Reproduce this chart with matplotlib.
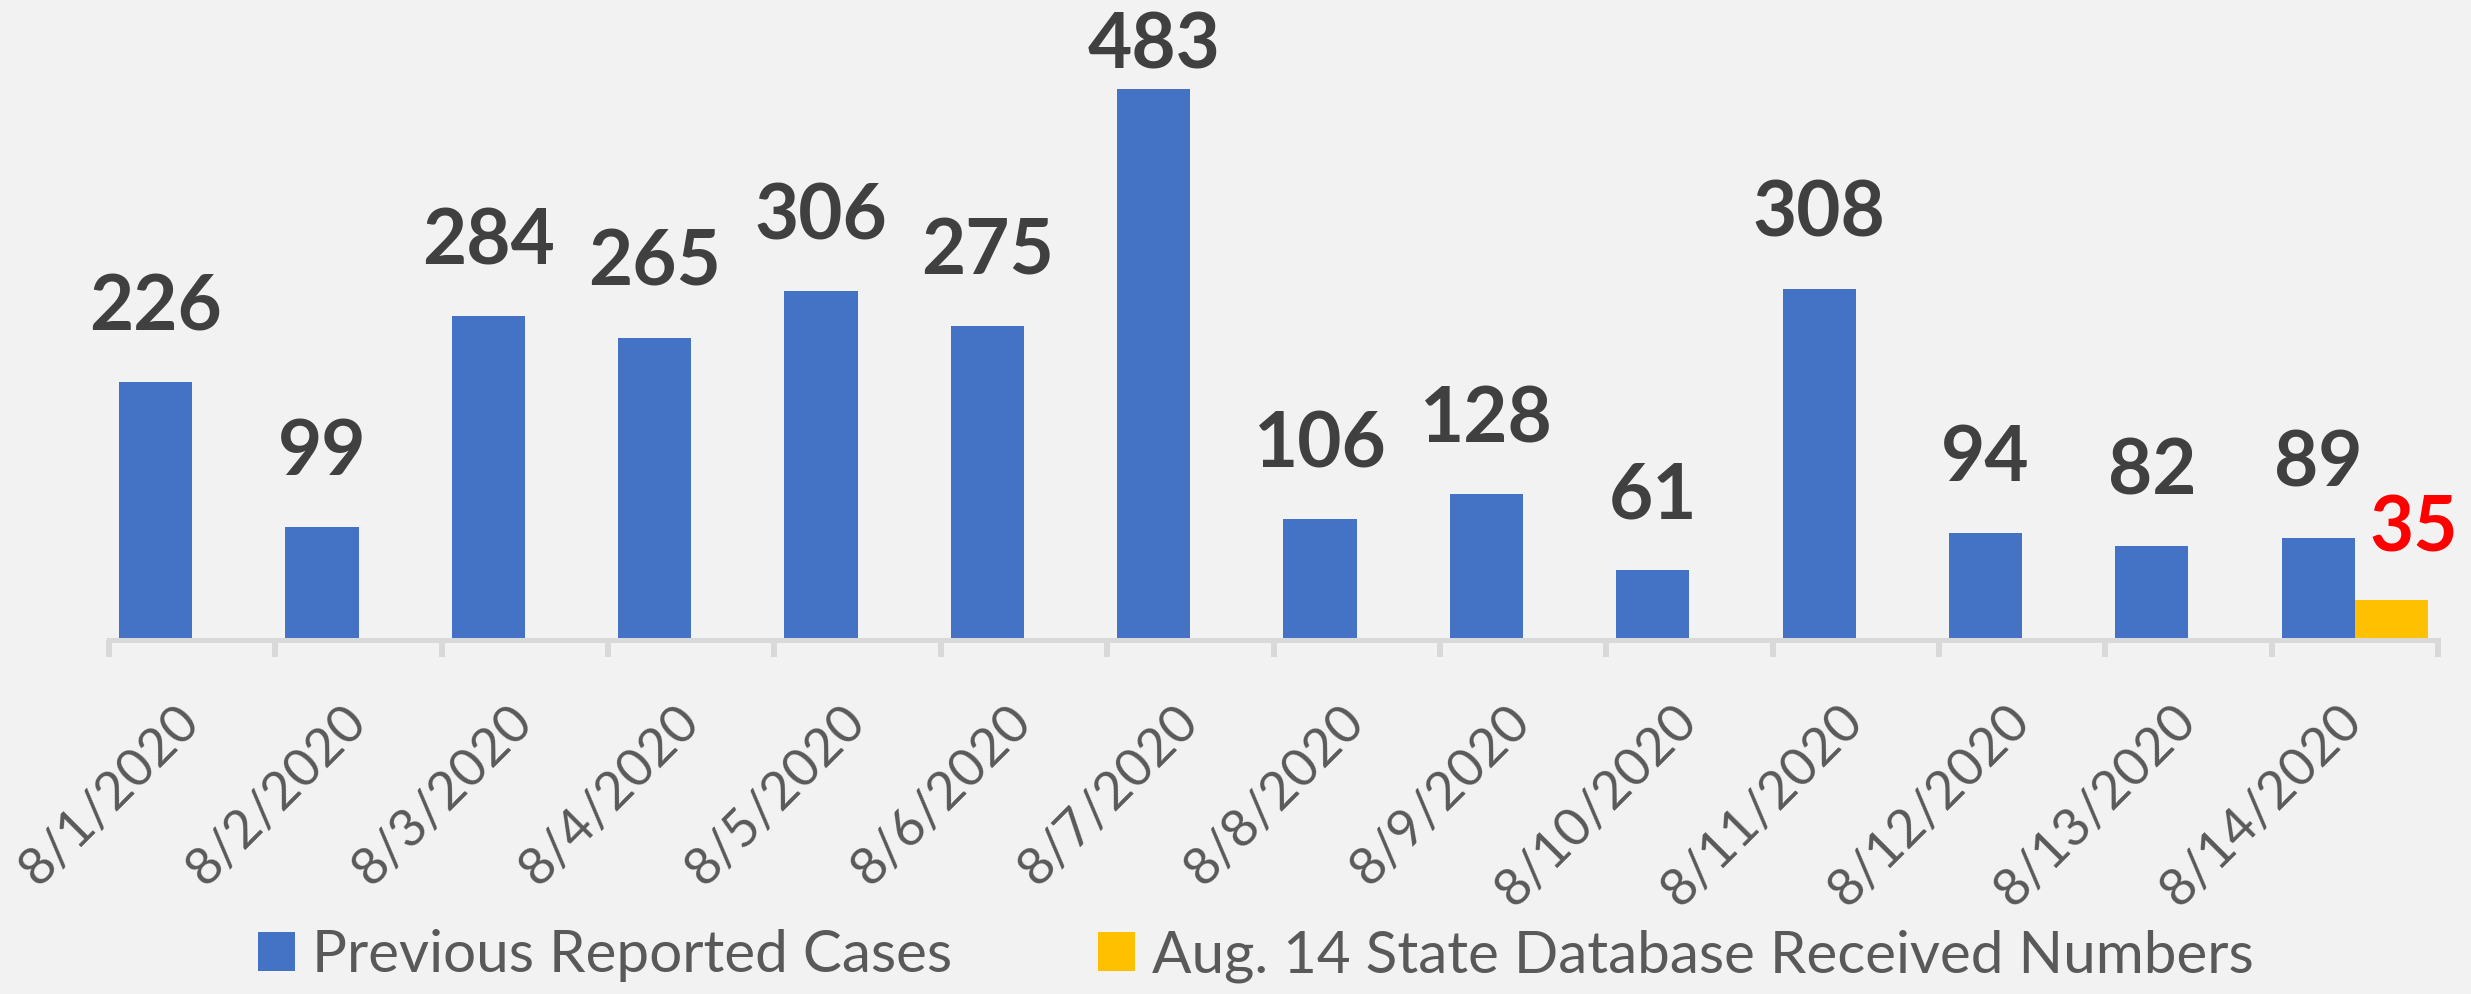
import numpy as np
import matplotlib
matplotlib.use("Agg")
import matplotlib.pyplot as plt
from matplotlib.patches import Patch

# ---- data ----
dates = ["8/1/2020", "8/2/2020", "8/3/2020", "8/4/2020", "8/5/2020", "8/6/2020", "8/7/2020",
         "8/8/2020", "8/9/2020", "8/10/2020", "8/11/2020", "8/12/2020", "8/13/2020", "8/14/2020"]
previous_cases = [226, 99, 284, 265, 306, 275, 483, 106, 128, 61, 308, 94, 82, 89]
state_db_numbers = [None, None, None, None, None, None, None, None, None, None, None, None, None, 35]
series_names = ["Previous Reported Cases", "Aug. 14 State Database Received Numbers"]

BG = "#F2F2F2"
BLUE = "#4472C4"
YELLOW = "#FFC000"
AXIS = "#D9D9D9"
TXT = "#595959"
LBL = "#404040"

W, H, DPI = 2471, 994, 100
fig = plt.figure(figsize=(W / DPI, H / DPI), dpi=DPI, facecolor=BG)
ax = fig.add_axes([109 / W, 1 - 640 / H, (2438 - 109) / W, 640 / H])
ax.set_facecolor(BG)

x = np.arange(len(dates))
bw = 0.44
prev = np.array(previous_cases, dtype=float)
st = np.array([np.nan if v is None else v for v in state_db_numbers], dtype=float)

ax.bar(x - bw / 2, prev, width=bw, color=BLUE, zorder=2)
ax.bar(x + bw / 2, st, width=bw, color=YELLOW, zorder=2)

ymax = 561
ax.set_ylim(0, ymax)
ax.set_xlim(-0.5, len(dates) - 0.5)

gap = 45.5
cap = 501
for xi, v in zip(x, prev):
    ax.text(xi - bw / 2, min(v + gap, cap), f"{int(v)}", ha="center", va="baseline",
            fontsize=55, fontweight="bold", family="Lato", color=LBL, zorder=3)
for xi, v in zip(x, st):
    if not np.isnan(v):
        ax.annotate(f"{int(v)}", xy=(xi + bw / 2, min(v + gap - 3, cap)), xytext=(16, 0),
                    textcoords="offset points", ha="center", va="baseline",
                    fontsize=55, fontweight="bold", family="Lato", color="#FF0000",
                    annotation_clip=False, zorder=3)

for s in ["top", "left", "right"]:
    ax.spines[s].set_visible(False)
ax.spines["bottom"].set_color(AXIS)
ax.spines["bottom"].set_linewidth(3.6)
ax.set_yticks([])

ax.set_xticks(x)
ax.set_xticklabels(dates, rotation=45, ha="right", va="center", rotation_mode="anchor",
                   fontsize=38, family="Lato", color=TXT)
ax.tick_params(axis="x", which="major", length=0, pad=53)
ax.set_xticks(np.arange(-0.5, len(dates), 1.0), minor=True)
ax.tick_params(axis="x", which="minor", length=12, width=4.3, color=AXIS, direction="out")

handles = [Patch(facecolor=BLUE, edgecolor="none"), Patch(facecolor=YELLOW, edgecolor="none")]
leg = fig.legend(handles, series_names, loc="center", bbox_to_anchor=(1256 / W, 1 - 956 / H),
                 ncol=2, frameon=False, prop={"family": "Lato", "size": 42},
                 handlelength=0.64, handleheight=0.65, handletextpad=0.29, columnspacing=2.5)
for t in leg.get_texts():
    t.set_color(TXT)

fig.savefig("out.png", dpi=DPI, facecolor=BG)
